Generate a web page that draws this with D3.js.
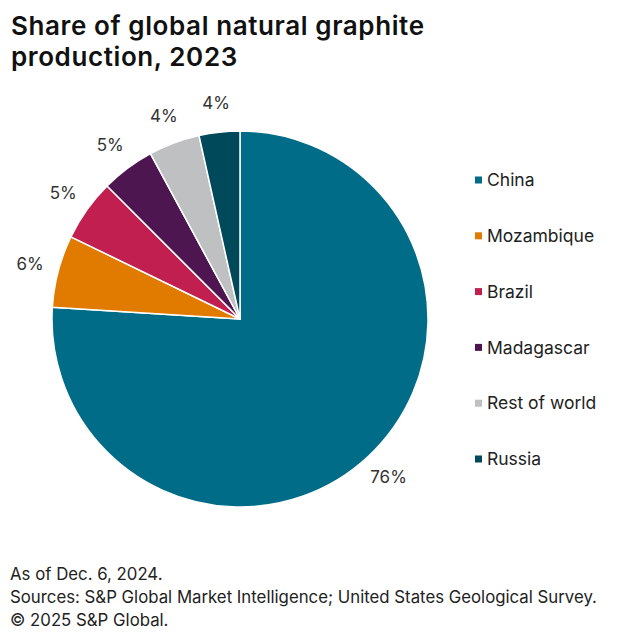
<!DOCTYPE html>
<html><head><meta charset="utf-8">
<script src="https://cdn.jsdelivr.net/npm/d3@7"></script>
<style>body{margin:0;background:#fff}</style>
</head><body>
<svg id="chart" width="622" height="643"></svg>
<script>
const categories = ["China","Mozambique","Brazil","Madagascar","Rest of world","Russia"];
const values = [76.0,6.2,5.3,4.6,4.4,3.5];
const colors = ["#006C87","#E07B00","#C01F4F","#4D1650","#BFC0C2","#00495B"];
const titleLines = ["Share of global natural graphite","production, 2023"];
const footLines = ["As of Dec. 6, 2024.","Sources: S&P Global Market Intelligence; United States Geological Survey.","© 2025 S&P Global."];

const svg = d3.select("#chart");
const font = "Inter, 'Open Sans', sans-serif";

svg.selectAll("text.title").data(titleLines).join("text")
  .attr("x", 11).attr("y", (d,i)=>35+i*31)
  .attr("font-family", font).attr("font-weight", 600).attr("font-size", 26)
  .attr("letter-spacing", 0.6)
  .attr("fill", "#111").text(d=>d);

const cx = 240, cy = 319, r = 188;
const g = svg.append("g").attr("transform", `translate(${cx},${cy})`);
const pie = d3.pie().sort(null).value(d=>d.v);
const data = pie(categories.map((c,i)=>({c, v: values[i], col: colors[i]})));
const arc = d3.arc().innerRadius(0).outerRadius(r);
g.selectAll("path").data(data).join("path")
  .attr("d", arc).attr("fill", d=>d.data.col)
  .attr("stroke", "#fff").attr("stroke-width", 1.5).attr("stroke-linejoin","round");

const labelArc = d3.arc().innerRadius(217).outerRadius(217);
g.selectAll("text.lbl").data(data).join("text")
  .attr("transform", d=>`translate(${labelArc.centroid(d)})`)
  .attr("text-anchor","middle").attr("dy","0.35em")
  .attr("font-family", font).attr("font-size", 17).attr("fill","#333")
  .text(d=>Math.round(d.data.v) + "%");

const color = d3.scaleOrdinal().domain(categories).range(colors);
const ly = d3.scalePoint().domain(categories).range([180, 459]);
const leg = svg.append("g");
leg.selectAll("rect").data(categories).join("rect")
  .attr("x", 475).attr("y", d=>ly(d)-3.5).attr("width", 7).attr("height", 7)
  .attr("fill", d=>color(d));
leg.selectAll("text").data(categories).join("text")
  .attr("x", 487).attr("y", d=>ly(d)).attr("dy","0.35em")
  .attr("font-family", font).attr("font-size", 17.5).attr("fill","#222")
  .text(d=>d);

svg.selectAll("text.foot").data(footLines).join("text")
  .attr("x", 10).attr("y", (d,i)=>580+i*23)
  .attr("font-family", font).attr("font-size", 16.8).attr("fill","#222")
  .text(d=>d);
</script>
</body></html>
